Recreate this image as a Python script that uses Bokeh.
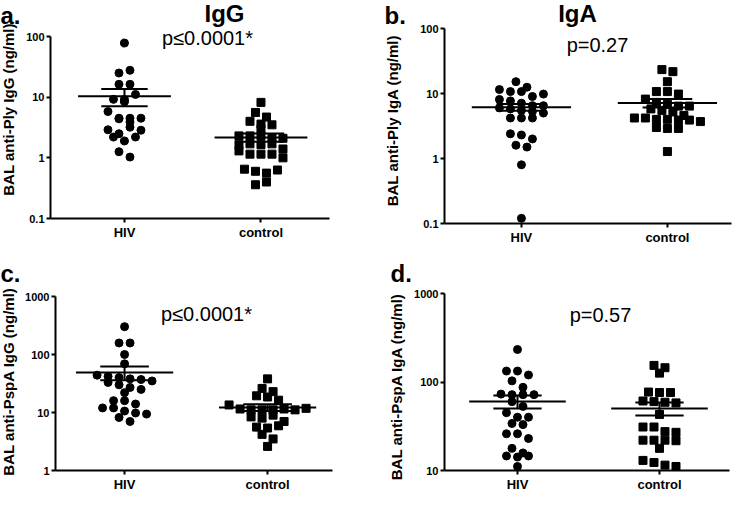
import numpy as np
from bokeh.plotting import figure
from bokeh.layouts import column, row
from bokeh.models import Range1d, FixedTicker, Label
from bokeh.embed import file_html
from bokeh.resources import INLINE

FONT = "Liberation Sans"

groups = ["HIV", "control"]

# Panel a: BAL anti-Ply IgG (ng/ml)
a_hiv = [78, 25, 27.7, 16.3, 16.3, 9.2, 8.4, 9.1, 11.1, 5.8, 4.5, 4.4, 3.9, 4.5, 4.5,
         2.9, 2.5, 3.2, 2.85, 2.2, 1.9, 2.2, 1.26, 1.03]
a_ctrl = [8.2, 5.6, 4.7, 4.0, 3.6, 3.5, 3.0, 2.3, 2.3, 2.3, 2.15, 2.1, 1.65, 1.7, 1.65,
          1.7, 1.3, 1.4, 1.15, 1.15, 1.15, 1.0, 0.65, 0.6, 0.56, 0.63, 0.36, 0.40]

# Panel b: BAL anti-Ply IgA (ng/ml)
b_hiv = [15.2, 11.5, 10.7, 10.7, 12.5, 9.0, 9.8, 8.1, 7.7, 7.1, 6.5, 6.5, 6.0, 5.8,
         5.5, 5.3, 5.0, 4.2, 4.2, 4.2, 2.4, 2.3, 2.0, 1.6, 1.5, 0.8, 0.12]
b_ctrl = [23.3, 21.7, 15.2, 10.7, 10.7, 9.8, 8.2, 7.3, 6.8, 6.4, 6.4, 5.8, 5.5, 5.2,
          4.6, 4.2, 4.2, 4.0, 4.0, 3.9, 3.9, 3.7, 3.0, 2.9, 2.9, 1.28]

# Panel c: BAL anti-PspA IgG (ng/ml)
c_hiv = [302, 158, 158, 100, 69, 44, 42, 40, 38, 37, 35, 33, 30, 27, 25, 22, 16, 16,
         14, 12, 12, 10.6, 9.8, 9.4, 8.2, 7.0]
c_ctrl = [38, 26, 22.9, 19.4, 18.5, 16.3, 13.5, 11.5, 11.1, 11.1, 11.1, 11.5, 11.1,
          11.8, 8.4, 8.0, 9.0, 7.0, 5.6, 5.4, 5.9, 4.2, 3.5, 2.6]

# Panel d: BAL anti-PspA IgA (ng/ml)
d_hiv = [233, 133, 133, 120, 103, 87, 73, 72, 72, 72, 60, 53, 45, 40, 40, 34, 33, 26,
         26, 23, 17.8, 15.8, 14.6, 14.2, 14.6, 11.1]
d_ctrl = [154, 145, 126, 77, 76, 76, 61, 60, 59, 58, 43, 31, 31, 27.5, 27, 22, 22, 22,
          21.7, 17.8, 13, 12.3, 11.5, 11.1]


def swarm(vals, ppd, ppu, step_px=11.0, bin_px=7.0):
    v = np.asarray(vals, float)
    ys = np.log10(v) * ppd
    order = np.argsort(-ys, kind="stable")
    rows, cur = [], []
    for i in order:
        if cur and ys[cur[0]] - ys[i] > bin_px:
            rows.append(cur)
            cur = []
        cur.append(i)
    if cur:
        rows.append(cur)
    offs = np.zeros(len(v))
    for r in rows:
        r = sorted(r)
        n = len(r)
        for j, i in enumerate(r):
            offs[i] = (j - (n - 1) / 2.0) * step_px / ppu
    return offs


def panel(W, H, box, xr, yr, yticks, hiv, ctrl, ylabel, ylab_pos,
          letter, letter_pos, ptext, ptext_pos, title=None, title_pos=None):
    fl, fr, ft, fb = box  # axis box inside the figure, in figure pixels
    ppu = (fr - fl) / (xr[1] - xr[0])
    ly0, ly1 = np.log10(yr[0]), np.log10(yr[1])
    ppd = (fb - ft) / (ly1 - ly0)
    full_x = (xr[0] - fl / ppu, xr[1] + (W - fr) / ppu)
    full_y = (10 ** (ly0 - (H - fb) / ppd), 10 ** (ly1 + ft / ppd))

    p = figure(width=W, height=H, x_range=Range1d(*full_x), y_range=Range1d(*full_y),
               y_axis_type="log", output_backend="svg", toolbar_location=None,
               title=None, min_border_left=0, min_border_right=0,
               min_border_top=0, min_border_bottom=0)
    p.outline_line_color = None
    p.xgrid.visible = False
    p.ygrid.visible = False

    for k, (vals, marker) in enumerate([(hiv, "circle"), (ctrl, "square")]):
        g = k + 1
        xs = g + swarm(vals, ppd, ppu)
        p.scatter(xs, vals, marker=marker, size=8, color="black")
        v = np.asarray(vals, float)
        m = v.mean()
        sem = v.std(ddof=1) / np.sqrt(len(v))
        p.segment(x0=[g - 0.34], x1=[g + 0.34], y0=[m], y1=[m], line_width=2, color="black")
        p.segment(x0=[g - 0.17, g - 0.17], x1=[g + 0.17, g + 0.17],
                  y0=[m - sem, m + sem], y1=[m - sem, m + sem], line_width=2, color="black")
        p.segment(x0=[g], x1=[g], y0=[m - sem], y1=[m + sem], line_width=2, color="black")

    for ax in (p.xaxis[0], p.yaxis[0]):
        ax.axis_line_width = 2
        ax.axis_line_color = "black"
        ax.major_tick_line_width = 2
        ax.major_tick_line_color = "black"
        ax.major_tick_in = 0
        ax.major_tick_out = 4
        ax.minor_tick_line_color = None
        ax.major_label_text_font = FONT
        ax.major_label_text_font_style = "bold"
        ax.major_label_text_color = "black"
    p.xaxis.fixed_location = yr[0]
    p.xaxis.bounds = xr
    p.xaxis.ticker = FixedTicker(ticks=[1, 2])
    p.xaxis.major_label_overrides = {1: groups[0], 2: groups[1]}
    p.xaxis.major_label_text_font_size = "13px"
    p.xaxis.major_label_standoff = 2
    p.yaxis.fixed_location = xr[0]
    p.yaxis.bounds = yr
    p.yaxis.ticker = FixedTicker(ticks=yticks)
    p.yaxis.major_label_overrides = {t: ("%g" % t) for t in yticks}
    p.yaxis.major_label_text_font_size = "11px"
    p.yaxis.major_label_standoff = 2

    def txt(text, pos, size, style, align="left", baseline="alphabetic", angle=0.0):
        fx, fy = pos
        p.add_layout(Label(x=fx, y=H - fy, x_units="screen", y_units="screen",
                           text=text, text_font=FONT, text_font_size=size,
                           text_font_style=style, text_align=align,
                           text_baseline=baseline, angle=angle, text_color="black"))

    txt(ylabel, ylab_pos, "15px", "bold", align="center", baseline="middle", angle=np.pi / 2)
    txt(letter, letter_pos, "24px", "bold")
    txt(ptext, ptext_pos, "20px", "normal", align="center")
    if title:
        txt(title, title_pos, "24px", "bold", align="center")
    return p


pa = panel(362, 246, (50, 329, 36, 218), (0.458, 2.502), (0.1, 100), [0.1, 1, 10, 100],
           a_hiv, a_ctrl, "BAL anti-Ply IgG (ng/ml)", (8, 109), "a.", (0, 15),
           "p\u22640.0001*", (207, 37), "IgG", (224, 13))
pb = panel(371, 246, (82, 369, 28, 223), (0.473, 2.439), (0.1, 100), [0.1, 1, 10, 100],
           b_hiv, b_ctrl, "BAL anti-Ply IgA (ng/ml)", (30, 120), "b.", (22, 15),
           "p=0.27", (235, 44), "IgA", (215, 13))
pc = panel(362, 246, (55, 332, 50, 224), (0.517, 2.454), (1, 1000), [1, 10, 100, 1000],
           c_hiv, c_ctrl, "BAL anti-PspA IgG (ng/ml)", (8, 135), "c.", (0, 27),
           "p\u22640.0001*", (206, 67))
pd_ = panel(371, 246, (82, 367, 47, 224), (0.486, 2.493), (10, 1000), [10, 100, 1000],
            d_hiv, d_ctrl, "BAL anti-PspA IgA (ng/ml)", (34, 140), "d.", (28, 27),
            "p=0.57", (238, 68))

layout = column(row(pa, pb), row(pc, pd_))
open("out.html", "w").write(file_html(layout, INLINE))
